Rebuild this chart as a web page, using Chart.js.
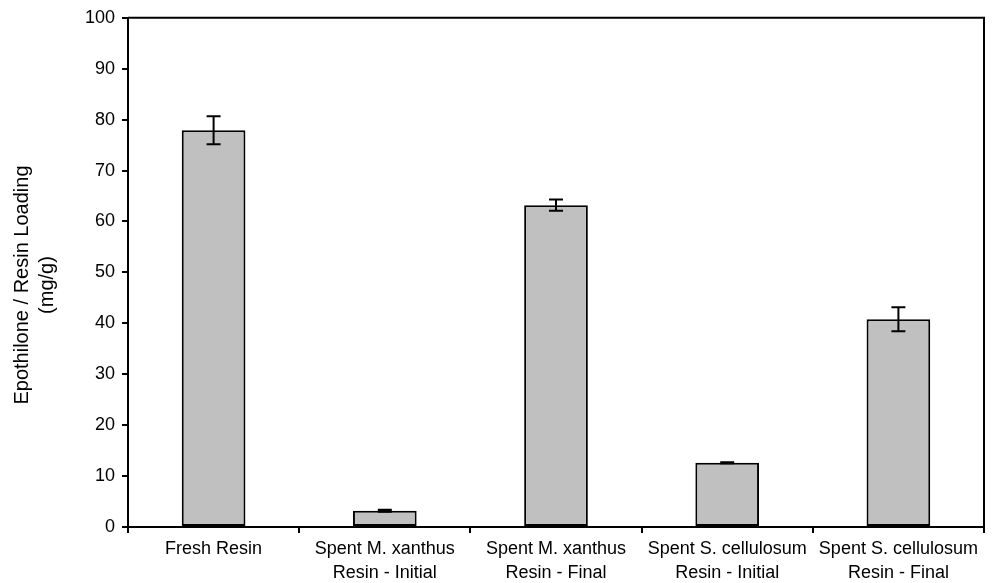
<!DOCTYPE html>
<html>
<head>
<meta charset="utf-8">
<script src="https://cdn.jsdelivr.net/npm/chart.js@4.4.1/dist/chart.umd.min.js"></script>
<style>
  html, body { margin: 0; padding: 0; background: #fff; }
  #wrap { width: 1008px; height: 583px; }
</style>
</head>
<body>
<div id="wrap"><canvas id="c" width="1008" height="583"></canvas></div>
<script>
// Epothilone loading on fresh and spent resins
const categories = [
  ['Fresh Resin'],
  ['Spent M. xanthus', 'Resin - Initial'],
  ['Spent M. xanthus', 'Resin - Final'],
  ['Spent S. cellulosum', 'Resin - Initial'],
  ['Spent S. cellulosum', 'Resin - Final']
];
const loading = [77.9, 3.2, 63.2, 12.6, 40.8];
const loadingErr = [2.75, 0.2, 1.1, 0.1, 2.35];
const yTicks = [0, 10, 20, 30, 40, 50, 60, 70, 80, 90, 100];
const yTitle = ['Epothilone / Resin Loading', '(mg/g)'];

const FONT = '"Liberation Sans", Arial, Helvetica, sans-serif';

// error bars with caps
const errorBars = {
  id: 'errorBars',
  afterDatasetsDraw(chart) {
    const meta = chart.getDatasetMeta(0);
    const y = chart.scales.y;
    const ctx = chart.ctx;
    ctx.save();
    ctx.strokeStyle = '#000';
    ctx.lineWidth = 2;
    const cap = 7;
    meta.data.forEach((bar, i) => {
      const v = loading[i], e = loadingErr[i];
      const yt = y.getPixelForValue(v + e);
      const yb = y.getPixelForValue(v - e);
      ctx.beginPath();
      ctx.moveTo(bar.x, yt); ctx.lineTo(bar.x, yb);
      ctx.moveTo(bar.x - cap, yt); ctx.lineTo(bar.x + cap, yt);
      ctx.moveTo(bar.x - cap, yb); ctx.lineTo(bar.x + cap, yb);
      ctx.stroke();
    });
    ctx.restore();
  }
};

// top and right edges of the plot frame, plus the rotated axis title
const frameAndTitle = {
  id: 'frameAndTitle',
  afterDraw(chart) {
    const a = chart.chartArea;
    const ctx = chart.ctx;
    ctx.save();
    ctx.strokeStyle = '#000';
    ctx.lineWidth = 2;
    ctx.beginPath();
    ctx.moveTo(a.left, a.top);
    ctx.lineTo(a.right, a.top);
    ctx.lineTo(a.right, a.bottom);
    ctx.stroke();

    ctx.fillStyle = '#000';
    ctx.font = '20px ' + FONT;
    ctx.textAlign = 'center';
    ctx.textBaseline = 'middle';
    const cy = 285;
    const xs = [22, 47];
    yTitle.forEach((t, i) => {
      ctx.save();
      ctx.translate(xs[i], cy);
      ctx.rotate(-Math.PI / 2);
      ctx.fillText(t, 0, 0);
      ctx.restore();
    });
    ctx.restore();
  }
};

new Chart(document.getElementById('c'), {
  type: 'bar',
  data: {
    labels: categories,
    datasets: [{
      data: loading,
      backgroundColor: '#c0c0c0',
      borderColor: '#000',
      borderWidth: 2,
      borderSkipped: false,
      categoryPercentage: 1,
      barPercentage: 0.372
    }]
  },
  options: {
    responsive: false,
    animation: false,
    devicePixelRatio: 1,
    layout: { padding: { top: 16, right: 24, left: 0, bottom: 0 } },
    plugins: { legend: { display: false }, tooltip: { enabled: false } },
    scales: {
      x: {
        grid: { display: true, drawOnChartArea: false, offset: true, color: '#000', lineWidth: 2, tickLength: 6 },
        border: { display: true, color: '#000', width: 2 },
        ticks: { color: '#000', font: { family: FONT, size: 18, lineHeight: 1.33 }, padding: 4, maxRotation: 0, autoSkip: false },
        afterFit(s) { s.height = 56; }
      },
      y: {
        min: 0,
        max: 100,
        afterBuildTicks(s) { s.ticks = yTicks.map(v => ({ value: v })); },
        grid: { display: true, drawOnChartArea: false, color: '#000', lineWidth: 2, tickLength: 6 },
        border: { display: true, color: '#000', width: 2 },
        ticks: { color: '#000', font: { family: FONT, size: 18 }, padding: 7 },
        afterFit(s) { s.width = 128; }
      }
    }
  },
  plugins: [errorBars, frameAndTitle]
});
</script>
</body>
</html>
